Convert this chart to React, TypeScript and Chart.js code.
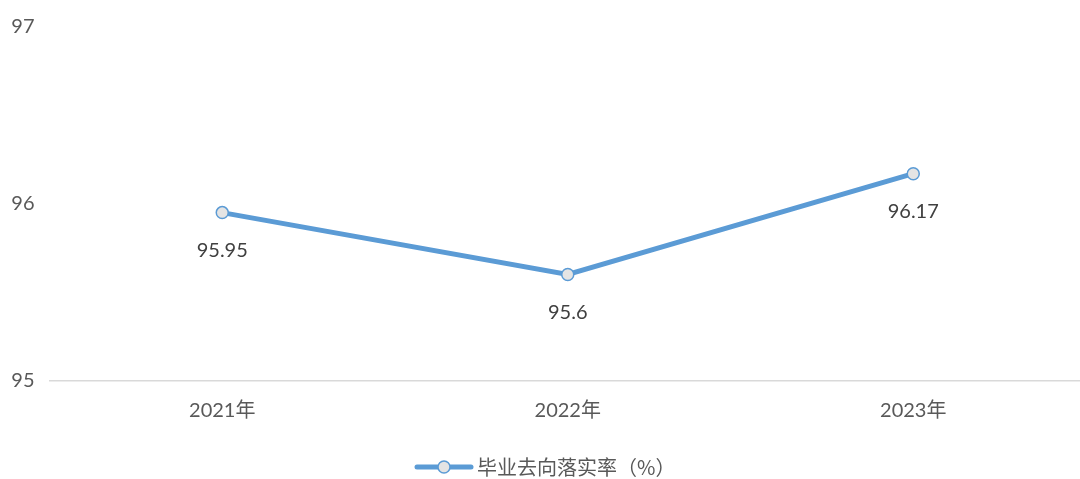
import React, { useEffect, useRef } from "react";
import { Chart, registerables } from "chart.js";

Chart.register(...registerables);

const categories = ["2021年", "2022年", "2023年"];
const seriesName = "毕业去向落实率（%）";
const seriesValues = [95.95, 95.6, 96.17];
const yTicks = [95, 96, 97];

const FONT = 'Lato, "Noto Sans CJK SC", sans-serif';
const LEGEND_FONT = '"Noto Sans CJK SC", Lato, sans-serif';
const LINE_COLOR = "#5b9bd5";
const POINT_FILL = "#e4e4e4";

const dataLabelPlugin = {
  id: "dataLabels",
  afterDatasetsDraw(chart: any) {
    const ctx = chart.ctx;
    const meta = chart.getDatasetMeta(0);
    const ds = chart.data.datasets[0];
    ctx.save();
    ctx.font = `20px ${FONT}`;
    ctx.fillStyle = "#404040";
    ctx.textAlign = "center";
    ctx.textBaseline = "middle";
    meta.data.forEach((pt: any, i: number) => {
      ctx.fillText(String(ds.data[i]), pt.x, pt.y + 38);
    });
    ctx.restore();
  },
};

const legendPlugin = {
  id: "customLegend",
  afterDraw(chart: any) {
    const ctx = chart.ctx;
    const ds = chart.data.datasets[0];
    ctx.save();
    ctx.font = `20px ${LEGEND_FONT}`;
    const lineW = 54;
    const gap = 6;
    const x0 = 417;
    const y = 467;
    ctx.strokeStyle = LINE_COLOR;
    ctx.lineWidth = 5;
    ctx.lineCap = "round";
    ctx.beginPath();
    ctx.moveTo(x0, y);
    ctx.lineTo(x0 + lineW, y);
    ctx.stroke();
    ctx.beginPath();
    ctx.arc(x0 + lineW / 2, y, 6, 0, Math.PI * 2);
    ctx.fillStyle = POINT_FILL;
    ctx.fill();
    ctx.lineWidth = 1.5;
    ctx.stroke();
    ctx.fillStyle = "#595959";
    ctx.textAlign = "left";
    ctx.textBaseline = "middle";
    ctx.fillText(ds.label, x0 + lineW + gap, y);
    ctx.restore();
  },
};

export default function App() {
  const ref = useRef<HTMLCanvasElement | null>(null);

  useEffect(() => {
    if (!ref.current) return;
    const chart = new Chart(ref.current, {
      type: "line",
      data: {
        labels: categories,
        datasets: [
          {
            label: seriesName,
            data: seriesValues,
            borderColor: LINE_COLOR,
            borderWidth: 5,
            pointRadius: 6,
            pointBorderWidth: 1.5,
            pointBackgroundColor: POINT_FILL,
            pointBorderColor: LINE_COLOR,
            tension: 0,
          },
        ],
      },
      options: {
        animation: false,
        responsive: false,
        maintainAspectRatio: false,
        layout: { autoPadding: false, padding: { top: 13, right: 0, bottom: 0, left: 0 } },
        plugins: {
          legend: { display: false },
          tooltip: { enabled: false },
        },
        scales: {
          x: {
            offset: true,
            grid: { display: false, drawTicks: false },
            border: { display: true, color: "#d9d9d9", width: 1.5 },
            ticks: {
              font: { family: FONT, size: 20 },
              color: "#595959",
              padding: 18,
            },
            afterFit(scale: any) {
              scale.height = 98.5;
            },
          },
          y: {
            min: 95,
            max: 97,
            afterBuildTicks(scale: any) {
              scale.ticks = yTicks.map((v) => ({ value: v }));
            },
            grid: { display: false, drawTicks: false },
            border: { display: false },
            ticks: {
              font: { family: FONT, size: 20 },
              color: "#595959",
              padding: 15,
            },
            afterFit(scale: any) {
              scale.width = 49.5;
            },
          },
        },
      },
      plugins: [dataLabelPlugin, legendPlugin],
    });
    return () => chart.destroy();
  }, []);

  return (
    <div
      style={{
        position: "fixed",
        left: 0,
        top: 0,
        width: 1080,
        height: 479,
        overflow: "hidden",
        background: "#fff",
      }}
    >
      <canvas ref={ref} width={1086} height={479} style={{ display: "block" }} />
    </div>
  );
}
